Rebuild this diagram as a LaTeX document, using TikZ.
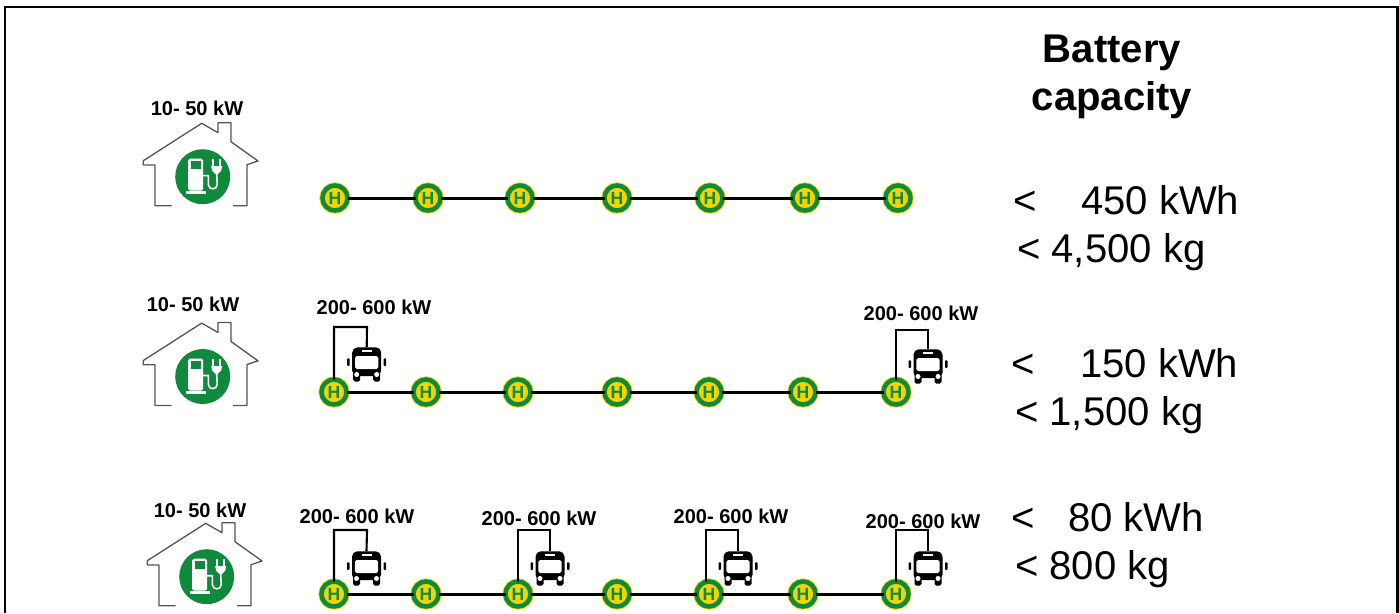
\documentclass[tikz,border=0pt]{standalone}
\usepackage{fontspec}
\setmainfont{Liberation Sans}
\definecolor{stopgreen}{HTML}{0F8A3C}
\definecolor{stopyellow}{HTML}{F2D500}
\definecolor{wallgray}{HTML}{555555}
\tikzset{
  stop/.style={circle, minimum size=25*0.02cm, inner sep=0pt, outer sep=0pt, fill=stopyellow,
    draw=stopgreen, line width=2.6pt, text=stopgreen, font=\fontsize{10}{10}\selectfont\bfseries,
    preaction={draw=stopyellow, line width=3.6pt}},
  route/.style={line width=1.7pt, black},
  cable/.style={line width=1.2pt, black},
  power/.style={font=\fontsize{11.4}{12}\selectfont\bfseries},
  capacity/.style={anchor=base west, font=\fontsize{22.8}{24}\selectfont},
  heading/.style={anchor=base, font=\fontsize{22.8}{24}\selectfont\bfseries},
  home/.pic={
    \draw[wallgray, line width=0.75pt, line join=round] (-31,29) -- (-47.7,29) -- (-47.7,-11.7) -- (-59.4,-11.7)
      -- (-59.4,-16) -- (-1,-53.4) -- (15.3,-44) -- (15.3,-54) -- (28.3,-54) -- (28.3,-35)
      -- (55.3,-15.7) -- (44.3,-12) -- (44.3,29) -- (30.3,29);
    \fill[stopgreen] (0,0) circle (27.5);
    % pump
    \fill[white, rounded corners=1pt] (-14.5,-18) rectangle (0.5,14);
    \fill[white] (-17,14) rectangle (3,17);
    \fill[stopgreen] (-12,-15.5) rectangle (-2,-7.5);
    % plug
    \fill[white] (8.5,-10.5) -- (19.5,-10.5) -- (18.5,-6) -- (15,-2.5) -- (13,-2.5) -- (9.5,-6) -- cycle;
    \draw[white, line width=1.2pt] (10.6,-18) -- (10.6,-10) (17.4,-18) -- (17.4,-10);
    \draw[white, line width=0.9pt] (14,-3) -- (14.5,8) .. controls (14.5,13.5) and (5.7,13.5) .. (5.7,8) -- (5.7,-1) -- (0,-1);
  },
  bus/.pic={
    \fill[black] (-14.5,-16.7) [rounded corners=3pt] -- (14.5,-16.7) -- (14.5,12) -- (-14.5,12) -- cycle;
    \fill[black, rounded corners=1pt] (-13.5,8) rectangle (-6.5,17.7);
    \fill[black, rounded corners=1pt] (6.5,8) rectangle (13.5,17.7);
    \fill[white, rounded corners=1pt] (-11.7,-8) rectangle (11.7,5);
    \fill[white] (-5,-14) rectangle (5,-11.7);
    \fill[white] (-10,10.5) circle (2.5);
    \fill[white] (10,10.5) circle (2.5);
    \fill[black, rounded corners=0.5pt] (-19.5,-5.7) rectangle (-17,2);
    \fill[black, rounded corners=0.5pt] (17,-5.7) rectangle (19.5,2);
    \coordinate (-top) at (0,-16.7);
  }
}
\begin{document}
\begin{tikzpicture}[x=0.02cm, y=-0.02cm]
  \useasboundingbox (0,0) rectangle (1399,613);
  % Frame
  \draw[line width=1.7pt] (5,613) -- (5,7) -- (1397,7) -- (1397,613);
  % Heading
  \node[heading] (title1) at (1112,62) {Battery};
  \node[heading] (title2) at (1112,110) {capacity};

  % Overnight charging only
  \pic at (202.7,176.7) {home};
  \node[power] (depot1) at (197,108) {10- 50 kW};
  \foreach \x [count=\i] in {335,428,520,617,710,805,898}
    \node[stop] (a\i) at (\x,198) {H};
  \draw[route] (a1) -- (a2) -- (a3) -- (a4) -- (a5) -- (a6) -- (a7);
  \node[capacity] (less1) at (1007,214) {<};
  \node[capacity] (kwh1) at (1075,214) {450 kWh};
  \node[capacity] (kg1) at (1011,262) {< 4,500 kg};

  % Charging at both terminals
  \pic at (202.7,376.5) {home};
  \node[power] (depot2) at (193,304) {10- 50 kW};
  \foreach \x [count=\i] in {334,426,518,617,709,803,896}
    \node[stop] (b\i) at (\x,392) {H};
  \draw[route] (b1) -- (b2) -- (b3) -- (b4) -- (b5) -- (b6) -- (b7);
  \pic (busb1) at (366.7,364) {bus};
  \pic (busb2) at (928,366) {bus};
  \coordinate (kb1) at (367,327);
  \coordinate (kb2) at (928,330);
  \draw[cable] (b1.north) |- (kb1) -- (busb1-top);
  \draw[cable] (b7.north) |- (kb2) -- (busb2-top);
  \node[power] (fast1) at (374,307) {200- 600 kW};
  \node[power] (fast2) at (921,313) {200- 600 kW};
  \node[capacity] (less2) at (1005,377) {<};
  \node[capacity] (kwh2) at (1074,377) {150 kWh};
  \node[capacity] (kg2) at (1009,425) {< 1,500 kg};

  % Charging along the route
  \pic at (206.7,576.7) {home};
  \node[power] (depot3) at (200,510) {10- 50 kW};
  \foreach \x [count=\i] in {334,426,518,617,709,803,896}
    \node[stop] (c\i) at (\x,594) {H};
  \draw[route] (c1) -- (c2) -- (c3) -- (c4) -- (c5) -- (c6) -- (c7);
  \pic (busc1) at (366.5,568) {bus};
  \pic (busc2) at (550,568) {bus};
  \pic (busc3) at (738,568) {bus};
  \pic (busc4) at (928,568) {bus};
  \coordinate (kc1) at (367,530);
  \coordinate (kc2) at (550,530);
  \coordinate (kc3) at (738,530);
  \coordinate (kc4) at (928,530);
  \draw[cable] (c1.north) |- (kc1) -- (busc1-top);
  \draw[cable] (c3.north) |- (kc2) -- (busc2-top);
  \draw[cable] ([xshift=-3*0.02cm]c5.north) |- (kc3) -- (busc3-top);
  \draw[cable] (c7.north) |- (kc4) -- (busc4-top);
  \node[power] (fast3) at (357,516) {200- 600 kW};
  \node[power] (fast4) at (539,518) {200- 600 kW};
  \node[power] (fast5) at (731,516) {200- 600 kW};
  \node[power] (fast6) at (923,521) {200- 600 kW};
  \node[capacity] (less3) at (1005,531) {<};
  \node[capacity] (kwh3) at (1062,531) {80 kWh};
  \node[capacity] (kg3) at (1009,579) {< 800 kg};
\end{tikzpicture}
\end{document}
